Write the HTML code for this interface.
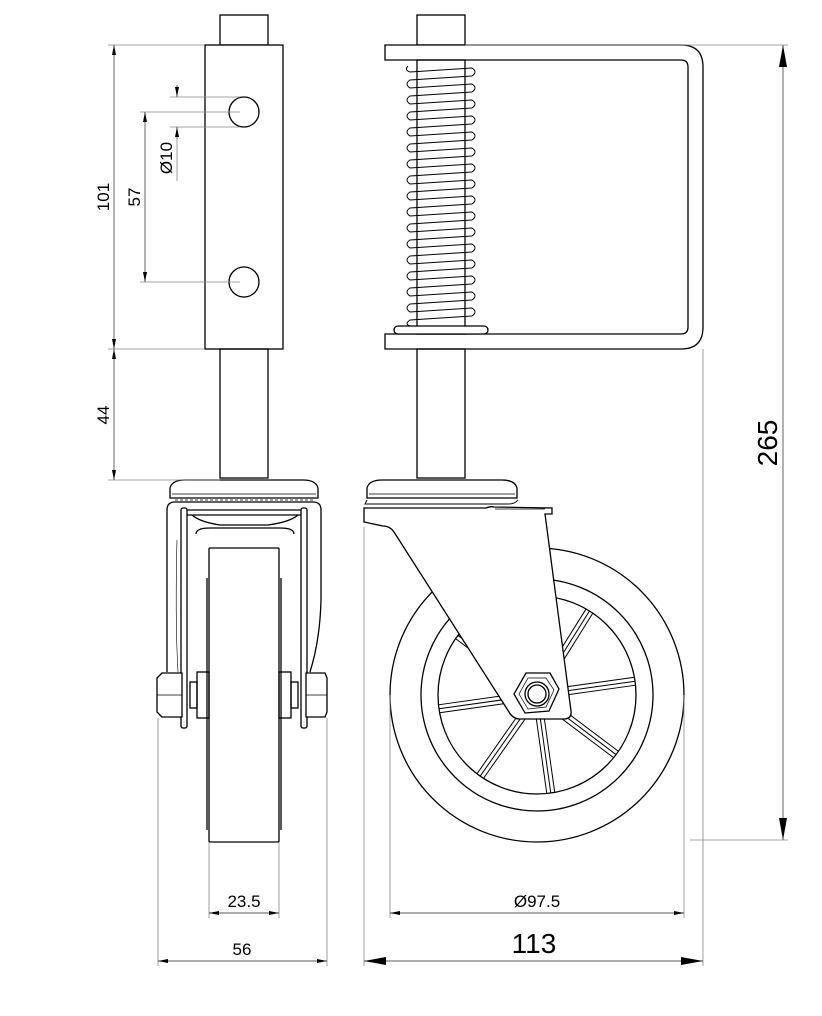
<!DOCTYPE html>
<html><head><meta charset="utf-8"><style>
html,body{margin:0;padding:0;background:#fff;}
svg{display:block;}
text{font-family:"Liberation Sans",sans-serif;fill:#000;}
</style></head><body>
<svg width="822" height="1016" viewBox="0 0 822 1016" xmlns="http://www.w3.org/2000/svg">
<defs>
<marker id="a" viewBox="0 0 10 4" refX="10" refY="2" markerWidth="10" markerHeight="4" orient="auto-start-reverse" markerUnits="userSpaceOnUse"><path d="M0,0 L10,2 L0,4 Z" fill="#000"/></marker>
<marker id="b" viewBox="0 0 22 8" refX="22" refY="4" markerWidth="22" markerHeight="8" orient="auto-start-reverse" markerUnits="userSpaceOnUse"><path d="M0,0 L22,4 L0,8 Z" fill="#000"/></marker>
</defs>
<g fill="none" stroke="#000" stroke-width="1.3">
<!-- LEFT VIEW -->
<rect x="220" y="15" width="48" height="30" fill="#fff"/>
<rect x="205" y="45" width="78" height="304" fill="#fff"/>
<circle cx="244" cy="112" r="15"/>
<circle cx="244" cy="282" r="15"/>
<rect x="220" y="349" width="48" height="129"/>
<path d="M170,498 L170,488 Q172,480 185,480 L303,480 Q316,480 318,488 L318,498 Z"/>
<line x1="172" y1="494" x2="316" y2="494" stroke-width="0.7"/>
<path d="M175,500 L313,500" stroke-width="0.8" stroke-dasharray="3,2"/>
<path d="M167,672 Q167,600 167,510 Q167,502 175,502 L313,502 Q321,502 321,510 L321,600 Q320,640 310,672"/>
<path d="M178,672 Q175,620 177,540" stroke-width="0.6"/>
<rect x="181" y="508" width="6" height="220" rx="2"/>
<rect x="301" y="508" width="6" height="220" rx="2"/>
<line x1="187" y1="510" x2="301" y2="510"/>
<line x1="187" y1="515" x2="301" y2="515"/>
<path d="M192,515 Q200,522 220,525 L268,525 Q290,522 298,515"/>
<path d="M196,534 Q196,528 210,528 L280,528 Q294,528 294,534"/>
<rect x="209" y="548" width="70" height="294" rx="1"/>
<line x1="207" y1="578" x2="207" y2="830"/>
<line x1="281" y1="578" x2="281" y2="830"/>
<rect x="197" y="672" width="12" height="46"/>
<rect x="279" y="672" width="12" height="46"/>
<rect x="190" y="682" width="7" height="26"/>
<rect x="291" y="682" width="7" height="26"/>
<path d="M157,678 L162,673 L182,673 L182,717 L162,717 L157,712 Z" fill="#fff"/>
<line x1="157" y1="695" x2="182" y2="695" stroke-width="0.7"/>
<path d="M306,673 L325,673 L327,678 L327,712 L325,717 L306,717 Z" fill="#fff"/>
<line x1="306" y1="695" x2="327" y2="695" stroke-width="0.7"/>

<!-- RIGHT VIEW -->
<rect x="417" y="15" width="48" height="30"/>
<path d="M385,45 L681,45 Q703,45 703,67 L703,327 Q703,349 681,349 L385,349 L385,334 L681,334 Q688,334 688,327 L688,67 Q688,60 681,60 L385,60 Z" fill="#fff"/>
<rect x="417" y="60" width="48" height="274"/>
<g stroke-width="1">
<path d="M408,66 Q404,70 410,72 L472,68 Q478,72 472,76 L410,80 Q404,84 410,88 L472,84 Q478,88 472,92 L410,96 Q404,100 410,104 L472,100 Q478,104 472,108 L410,112 Q404,116 410,120 L472,116 Q478,120 472,124 L410,128 Q404,132 410,136 L472,132 Q478,136 472,140 L410,144 Q404,148 410,152 L472,148 Q478,152 472,156 L410,160 Q404,164 410,168 L472,164 Q478,168 472,172 L410,176 Q404,180 410,184 L472,180 Q478,184 472,188 L410,192 Q404,196 410,200 L472,196 Q478,200 472,204 L410,208 Q404,212 410,216 L472,212 Q478,216 472,220 L410,224 Q404,228 410,232 L472,228 Q478,232 472,236 L410,240 Q404,244 410,248 L472,244 Q478,248 472,252 L410,256 Q404,260 410,264 L472,260 Q478,264 472,268 L410,272 Q404,276 410,280 L472,276 Q478,280 472,284 L410,288 Q404,292 410,296 L472,292 Q478,296 472,300 L410,304 Q404,308 410,312 L472,308 Q478,312 472,316 L410,320 Q404,324 410,326"/>
</g>
<rect x="394" y="326" width="94" height="8" rx="4" fill="#fff"/>
<rect x="417" y="349" width="48" height="129"/>
<path d="M367,498 L367,488 Q369,480 382,480 L502,480 Q515,480 517,488 L517,498 Z"/>
<line x1="369" y1="494" x2="515" y2="494" stroke-width="0.7"/>
<!-- wheel -->
<circle cx="537" cy="695" r="147"/>
<circle cx="537" cy="695" r="116"/>
<circle cx="537" cy="695" r="99"/>
<g stroke-width="1">
<g transform="rotate(-8 537 695)">
<path d="M537,691 L636,691 M537,699 L636,699 M537,695 L636,695"/>
<path d="M537,691 L438,691 M537,699 L438,699 M537,695 L438,695"/>
</g>
<g transform="rotate(37 537 695)"><path d="M537,691 L636,691 M537,699 L636,699 M537,695 L636,695 M537,691 L438,691 M537,699 L438,699 M537,695 L438,695"/></g>
<g transform="rotate(-58 537 695)"><path d="M537,691 L636,691 M537,699 L636,699 M537,695 L636,695"/></g>
<g transform="rotate(82 537 695)"><path d="M537,691 L636,691 M537,699 L636,699 M537,695 L636,695"/></g>
<g transform="rotate(125 537 695)"><path d="M537,691 L636,691 M537,699 L636,699 M537,695 L636,695"/></g>
</g>
<!-- fork plate -->
<path d="M367,500 Q366,502 365,504 L508,504 Q515,504 518,500" stroke-width="1"/>
<path d="M364,508 L486,508 Q490,506 494,507 L552,508 L552,514 L545,514 L571,711 Q572,718 565,719 L520,719 Q513,719 509,712 L394,532 Q390,526 383,526 L364,522 Z" fill="#fff"/>
<line x1="495" y1="509" x2="545" y2="509" stroke-width="0.8"/>
<polygon points="559,689 549,711 525,713 514,694 526,673 550,673" fill="#fff"/>
<polygon points="554,690 546,707 528,709 519,694 528,678 546,678" stroke-width="0.7"/>
<circle cx="537" cy="694" r="12"/>
<circle cx="537" cy="694" r="9"/>
</g>

<!-- DIMENSIONS -->
<g stroke="#888" stroke-width="0.8" fill="none">
<line x1="108" y1="45" x2="205" y2="45"/>
<line x1="108" y1="349" x2="205" y2="349"/>
<line x1="108" y1="480" x2="220" y2="480"/>
<line x1="140" y1="112" x2="240" y2="112"/>
<line x1="140" y1="282" x2="240" y2="282"/>
<line x1="170" y1="97" x2="240" y2="97"/>
<line x1="170" y1="127" x2="240" y2="127"/>
<line x1="177" y1="127" x2="177" y2="181"/>
<line x1="465" y1="45" x2="788" y2="45"/>
<line x1="690" y1="840" x2="788" y2="840"/>
<line x1="158" y1="718" x2="158" y2="966"/>
<line x1="327" y1="718" x2="327" y2="966"/>
<line x1="209" y1="842" x2="209" y2="918"/>
<line x1="279" y1="842" x2="279" y2="918"/>
<line x1="390" y1="695" x2="390" y2="918"/>
<line x1="684" y1="695" x2="684" y2="918"/>
<line x1="364" y1="527" x2="364" y2="966"/>
<line x1="703" y1="349" x2="703" y2="966"/>
</g>
<g stroke="#555" stroke-width="0.9" fill="none">
<line x1="114" y1="45" x2="114" y2="349" marker-start="url(#a)" marker-end="url(#a)"/>
<line x1="114" y1="349" x2="114" y2="480" marker-start="url(#a)" marker-end="url(#a)"/>
<line x1="145" y1="112" x2="145" y2="282" marker-start="url(#a)" marker-end="url(#a)"/>
<line x1="177" y1="85" x2="177" y2="97" marker-end="url(#a)"/>
<line x1="177" y1="139" x2="177" y2="127" marker-end="url(#a)"/>
<line x1="783" y1="45" x2="783" y2="840" marker-start="url(#b)" marker-end="url(#b)"/>
<line x1="209" y1="913" x2="279" y2="913" marker-start="url(#a)" marker-end="url(#a)"/>
<line x1="158" y1="961" x2="327" y2="961" marker-start="url(#a)" marker-end="url(#a)"/>
<line x1="390" y1="913" x2="684" y2="913" marker-start="url(#a)" marker-end="url(#a)"/>
<line x1="364" y1="961" x2="703" y2="961" marker-start="url(#b)" marker-end="url(#b)"/>
</g>
<text x="0" y="0" font-size="17" text-anchor="middle" transform="translate(109,197) rotate(-90)">101</text>
<text x="0" y="0" font-size="17" text-anchor="middle" transform="translate(140,197) rotate(-90)">57</text>
<text x="0" y="0" font-size="17" text-anchor="middle" transform="translate(172,158) rotate(-90)">Ø10</text>
<text x="0" y="0" font-size="17" text-anchor="middle" transform="translate(109,415) rotate(-90)">44</text>
<text x="0" y="0" font-size="28" text-anchor="middle" transform="translate(777,443) rotate(-90)">265</text>
<text x="244" y="907" font-size="17" text-anchor="middle">23.5</text>
<text x="242" y="955" font-size="17" text-anchor="middle">56</text>
<text x="537" y="907" font-size="17" text-anchor="middle">Ø97.5</text>
<text x="534" y="953" font-size="28" text-anchor="middle">113</text>
</svg>
</body></html>
